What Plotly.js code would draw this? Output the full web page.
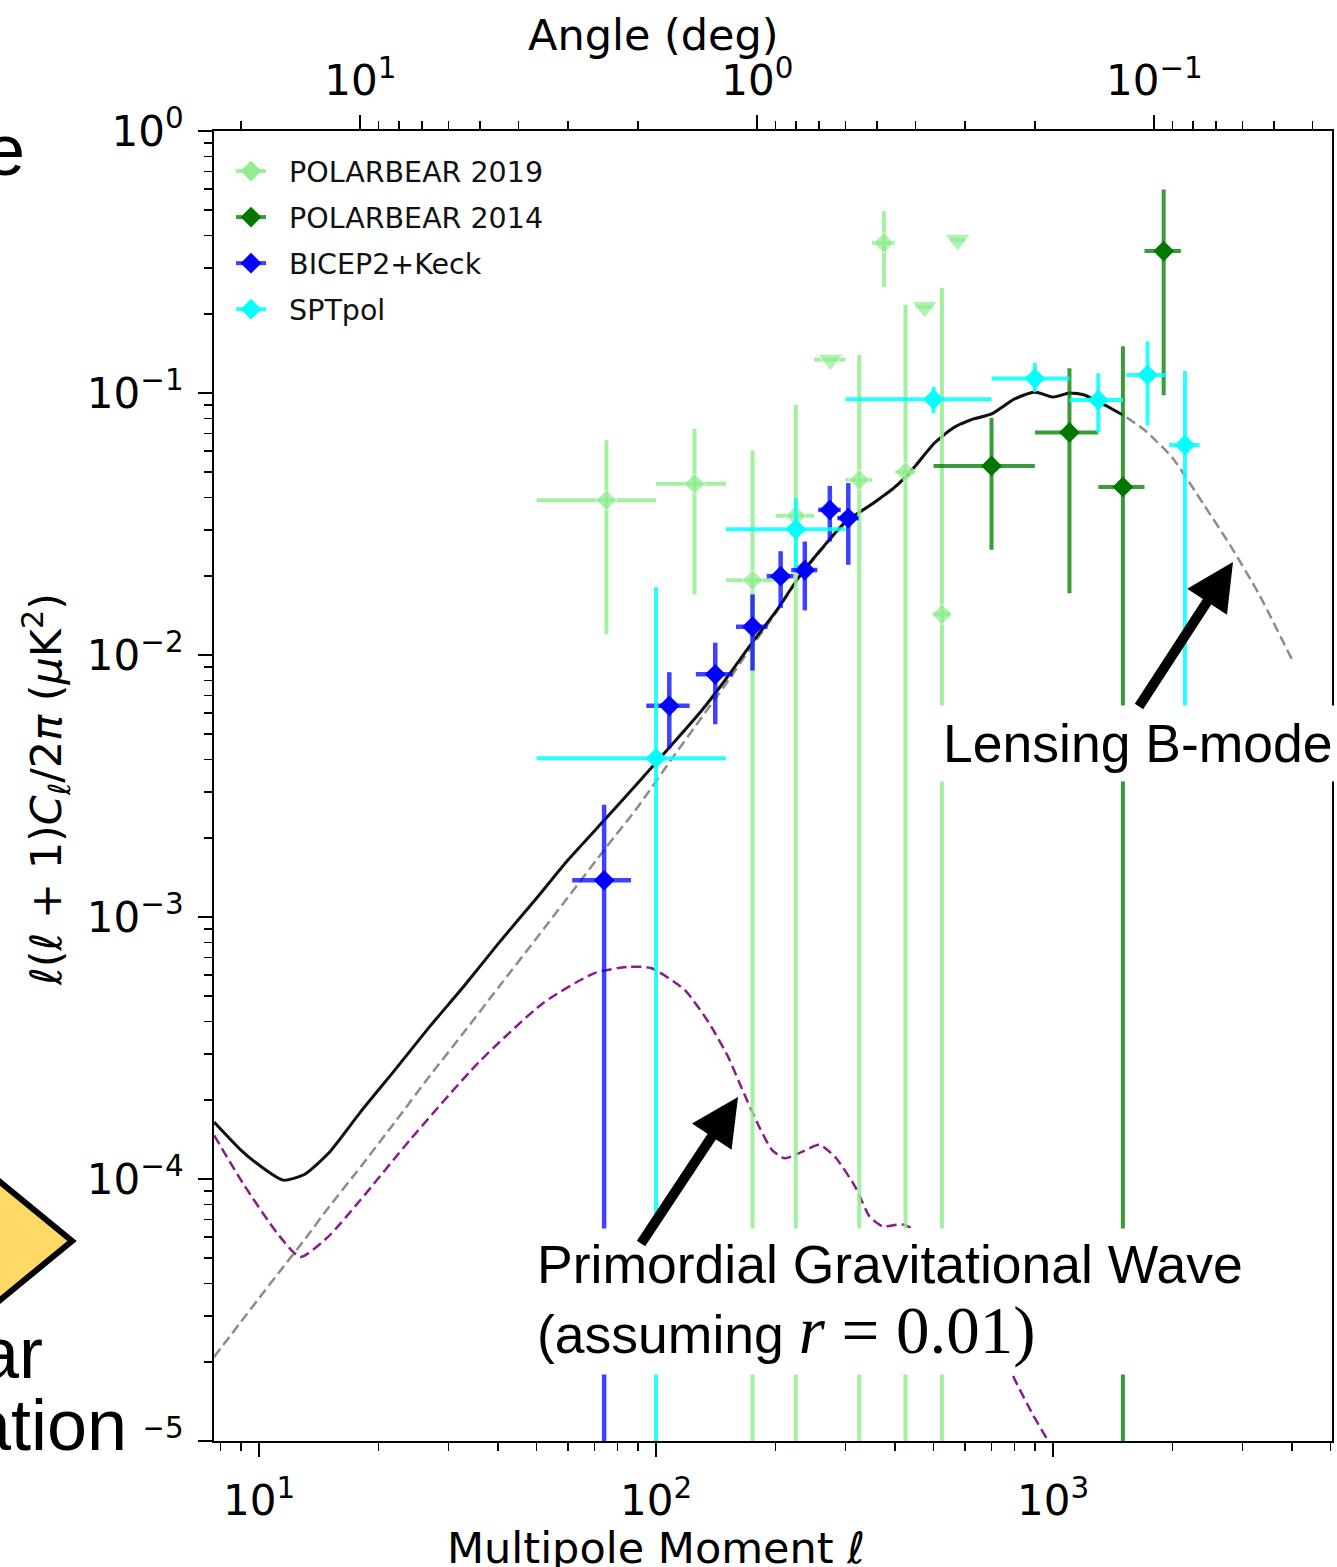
<!DOCTYPE html>
<html>
<head>
<meta charset="utf-8">
<script src="https://cdn.plot.ly/plotly-3.0.1.min.js"></script>
<style>
html,body{margin:0;padding:0;background:#fff;}
#chart{width:1337px;height:1567px;}
</style>
</head>
<body>
<div id="chart"></div>
<script>
// ---------------- data ----------------
// POLARBEAR 2019
const pb19Ell    = [75, 125, 175, 225, 275, 325, 375, 425, 475, 525, 575];
const pb19Val    = [0.039, 0.045, 0.0193, 0.034, 0.134, 0.0466, 0.374, 0.050, 0.213, 0.0143, 0.384];
const pb19Err    = [0.027, 0.028, 0.041, 0.056, 0, 0.093, 0.12, 0.167, 0, 0.238, 0];
const pb19EllErr = [25, 25, 25, 25, 25, 25, 25, 25, 25, 25, 25];
const pb19Upper  = [0, 0, 0, 0, 1, 0, 0, 0, 1, 0, 1];   // 1 = upper limit (triangle)

// POLARBEAR 2014
const pb14Ell    = [700, 1100, 1500, 1900];
const pb14Val    = [0.0527, 0.0707, 0.0438, 0.348];
const pb14Err    = [0.0275, 0.0535, 0.107, 0.25];
const pb14EllErr = [200, 200, 200, 200];

// BICEP2+Keck
const bkEll      = [74, 108, 141, 175, 206, 237, 274, 305];
const bkVal      = [0.00138, 0.0064, 0.00844, 0.01282, 0.0200, 0.0211, 0.0358, 0.0333];
const bkErrPlus  = [0.0013, 0.0022, 0.0027, 0.0042, 0.0049, 0.0060, 0.0084, 0.0120];
const bkErrMinus = [0.0015, 0.0020, 0.0030, 0.0041, 0.0049, 0.0063, 0.0087, 0.0112];
const bkEllErr   = [12.5, 13.5, 15, 16, 16, 18, 18, 19];

// SPTpol
const sptEll      = [100, 225, 500, 900, 1300, 1730, 2150];
const sptVal      = [0.00404, 0.0302, 0.0946, 0.1135, 0.094, 0.1172, 0.0633];
const sptErrPlus  = [0.0141, 0.0095, 0.011, 0.0167, 0.025, 0.040, 0.058];
const sptErrMinus = [0.0141, 0.0087, 0.011, 0.0126, 0.0233, 0.042, 0.058];
const sptEllErr   = [50, 75, 200, 200, 200, 200, 190];

// Total (lensing + r=0.01), black solid
const totEll = [7.7, 9, 10, 11.5, 13, 15, 18, 22, 27, 33, 40, 50, 60, 75, 90, 110, 130, 150, 175, 200,
                230, 260, 300, 350, 400, 450, 500, 560, 630, 700, 800, 900, 1000, 1100, 1200, 1350, 1500];
const totVal = [1.65e-4, 1.29e-4, 1.13e-4, 9.9e-5, 1.04e-4, 1.26e-4, 1.80e-4, 2.61e-4, 3.84e-4, 5.5e-4,
                7.9e-4, 1.18e-3, 1.65e-3, 2.39e-3, 3.25e-3, 4.57e-3, 6.11e-3, 8.1e-3, 1.12e-2, 1.46e-2,
                2.0e-2, 2.52e-2, 3.22e-2, 3.77e-2, 4.38e-2, 5.27e-2, 6.39e-2, 7.35e-2, 7.96e-2, 8.32e-2,
                9.49e-2, 0.1009, 0.0965, 0.1, 0.0983, 0.09, 0.0824];

// Lensing B-mode, grey dashed
const lensEll = [7.7, 9, 10, 11.5, 13, 15, 18, 22, 27, 33, 40, 50, 60, 75, 90, 110, 130, 150, 175, 200,
                 230, 260, 300, 350, 400, 450, 500, 560, 630, 700, 800, 900, 1000, 1100, 1200, 1350, 1500,
                 1700, 2000, 2400, 2800, 3300, 4000];
const lensVal = [2.09e-5, 2.85e-5, 3.51e-5, 4.61e-5, 5.85e-5, 7.82e-5, 1.11e-4, 1.65e-4, 2.49e-4, 3.67e-4,
                 5.36e-4, 8.3e-4, 1.19e-3, 1.85e-3, 2.63e-3, 4.05e-3, 5.75e-3, 7.75e-3, 1.09e-2, 1.44e-2,
                 1.99e-2, 2.5e-2, 3.2e-2, 3.75e-2, 4.35e-2, 5.25e-2, 6.37e-2, 7.33e-2, 7.94e-2, 8.3e-2,
                 9.47e-2, 0.1007, 0.0963, 0.0998, 0.0981, 0.0899, 0.0823,
                 0.0722, 0.0565, 0.0374, 0.0261, 0.0171, 0.0096];

// Primordial (r = 0.01), purple dashed
const tensEll = [7.7, 9.1, 11.1, 12.7, 14.9, 18, 24, 35.6, 52, 70, 85, 97, 118, 136, 152, 165, 182, 196,
                 211, 233, 258, 283, 318, 345, 372, 418, 497, 592, 705, 802, 890, 971, 1124];
const tensVal = [1.47e-4, 9.65e-5, 6.22e-5, 5.04e-5, 6.0e-5, 8.31e-5, 1.41e-4, 2.77e-4, 4.7e-4, 6.11e-4,
                 6.45e-4, 6.39e-4, 5.27e-4, 3.94e-4, 2.92e-4, 2.19e-4, 1.58e-4, 1.29e-4, 1.2e-4, 1.27e-4,
                 1.35e-4, 1.21e-4, 9.3e-5, 7.2e-5, 6.6e-5, 6.7e-5, 5.85e-5, 4.5e-5, 2.65e-5, 1.71e-5,
                 1.26e-5, 1.0e-5, 6e-6];

// axis tick labels
const xTickVals = [10, 100, 1000];
const xTickText = ['10<sup>1</sup>', '10<sup>2</sup>', '10<sup>3</sup>'];
const yTickVals = [1e-5, 1e-4, 1e-3, 1e-2, 1e-1, 1];
const yTickText = ['10<sup>\u22125</sup>', '10<sup>\u22124</sup>', '10<sup>\u22123</sup>', '10<sup>\u22122</sup>', '10<sup>\u22121</sup>', '10<sup>0</sup>'];
const angTickVals = [10, 1, 0.1];
const angTickText = ['10<sup>1</sup>', '10<sup>0</sup>', '10<sup>\u22121</sup>'];

const seriesNames = ['POLARBEAR 2019', 'POLARBEAR 2014', 'BICEP2+Keck', 'SPTpol'];

// ---------------- layout helpers ----------------
const W = 1337, H = 1567, ML = 214, MR = 5, MT = 131, MB = 126;
const PW = W - ML - MR, PH = H - MT - MB;
const px = v => (v - ML) / PW;            // pixel x -> paper
const py = v => (H - MB - v) / PH;        // pixel y -> paper
const ELL_MIN = 7.7, ELL_MAX = 5044;

function minorTicks(lo, hi) {
  const out = [];
  for (let d = -6; d <= 4; d++) {
    for (let k = 2; k <= 9; k++) {
      const v = k * Math.pow(10, d);
      if (v > lo && v < hi) out.push(v);
    }
  }
  return out;
}

const col = {
  pb19: '#90EE90', pb19bar: 'rgba(144,238,144,0.85)',
  pb14: '#007800', pb14bar: 'rgba(0,128,0,0.78)',
  bk: '#0000FF',   bkbar: 'rgba(0,0,255,0.75)',
  spt: '#00FFFF',  sptbar: 'rgba(0,255,255,0.85)'
};

const traces = [];

traces.push({ x: lensEll, y: lensVal, mode: 'lines', type: 'scatter', showlegend: false, hoverinfo: 'skip',
  line: { color: '#8c8c8c', width: 2.5, dash: '10px,5px', shape: 'spline', smoothing: 0.6 } });
traces.push({ x: tensEll, y: tensVal, mode: 'lines', type: 'scatter', showlegend: false, hoverinfo: 'skip',
  line: { color: '#8B1A8B', width: 2.5, dash: '10px,5px', shape: 'spline', smoothing: 0.6 } });
traces.push({ x: totEll, y: totVal, mode: 'lines', type: 'scatter', showlegend: false, hoverinfo: 'skip',
  line: { color: '#111', width: 3, shape: 'spline', smoothing: 0.6 } });

// POLARBEAR 2019
traces.push({ x: pb19Ell, y: pb19Val, type: 'scatter', mode: 'markers', name: seriesNames[0], showlegend: false,
  marker: { color: col.pb19, size: pb19Upper.map(u => u ? 22 : 16), symbol: pb19Upper.map(u => u ? 'triangle-down' : 'diamond') },
  error_y: { type: 'data', array: pb19Err, symmetric: true, color: col.pb19bar, thickness: 4, width: 0 },
  error_x: { type: 'data', array: pb19EllErr, symmetric: true, color: col.pb19bar, thickness: 4, width: 0 } });
// POLARBEAR 2014
traces.push({ x: pb14Ell, y: pb14Val, type: 'scatter', mode: 'markers', name: seriesNames[1], showlegend: false,
  marker: { color: col.pb14, size: 16, symbol: 'diamond' },
  error_y: { type: 'data', array: pb14Err, symmetric: true, color: col.pb14bar, thickness: 4, width: 0 },
  error_x: { type: 'data', array: pb14EllErr, symmetric: true, color: col.pb14bar, thickness: 4, width: 0 } });
// BICEP2+Keck
traces.push({ x: bkEll, y: bkVal, type: 'scatter', mode: 'markers', name: seriesNames[2], showlegend: false,
  marker: { color: col.bk, size: 16, symbol: 'diamond' },
  error_y: { type: 'data', symmetric: false, array: bkErrPlus, arrayminus: bkErrMinus, color: col.bkbar, thickness: 4.5, width: 0 },
  error_x: { type: 'data', array: bkEllErr, symmetric: true, color: col.bkbar, thickness: 4.5, width: 0 } });
// SPTpol
traces.push({ x: sptEll, y: sptVal, type: 'scatter', mode: 'markers', name: seriesNames[3], showlegend: false,
  marker: { color: col.spt, size: 16, symbol: 'diamond' },
  error_y: { type: 'data', symmetric: false, array: sptErrPlus, arrayminus: sptErrMinus, color: col.sptbar, thickness: 4, width: 0 },
  error_x: { type: 'data', array: sptEllErr, symmetric: true, color: col.sptbar, thickness: 4, width: 0 } });

// legend entries
[[col.pb19, col.pb19bar], [col.pb14, col.pb14bar], [col.bk, col.bkbar], [col.spt, col.sptbar]].forEach((c, i) => {
  traces.push({ x: [null], y: [null], type: 'scatter', mode: 'lines+markers', name: '\u00a0\u00a0' + seriesNames[i],
    legendgroup: 'g' + i, line: { color: c[1], width: 4 }, marker: { color: c[0], size: 16, symbol: 'diamond' } });
});

// anchor trace for the top (angle) axis
traces.push({ x: [1], y: [1e-9], xaxis: 'x2', yaxis: 'y', mode: 'markers', showlegend: false, hoverinfo: 'skip',
  marker: { opacity: 0 } });

const tickFont = { family: 'DejaVu Sans', size: 42, color: '#000' };
const labelFont = { family: 'DejaVu Sans', size: 43, color: '#000' };
const slideFont = { family: 'Liberation Sans', size: 53.5, color: '#000' };
const bigFont = { family: 'Liberation Sans', size: 72, color: '#000' };

const layout = {
  width: W, height: H,
  margin: { l: ML, r: MR, t: MT, b: MB, pad: 0 },
  paper_bgcolor: '#fff', plot_bgcolor: '#fff',
  font: { family: 'DejaVu Sans', color: '#000' },
  showlegend: true,
  legend: { x: px(231), y: py(146), xanchor: 'left', yanchor: 'top', bgcolor: 'rgba(0,0,0,0)',
    font: { family: 'DejaVu Sans', size: 28.5, color: '#111' }, tracegroupgap: 6, itemwidth: 30 },
  xaxis: {
    type: 'log', range: [Math.log10(ELL_MIN), Math.log10(ELL_MAX)],
    tickmode: 'array', tickvals: xTickVals, ticktext: xTickText, tickfont: tickFont,
    ticks: 'outside', ticklen: 14, tickwidth: 2, tickcolor: '#000', ticklabelstandoff: 8,
    minor: { tickmode: 'array', tickvals: minorTicks(ELL_MIN, ELL_MAX), ticks: 'outside', ticklen: 8, tickwidth: 1.5, tickcolor: '#000', showgrid: false },
    showline: true, linecolor: '#000', linewidth: 2, mirror: true,
    showgrid: false, zeroline: false
  },
  xaxis2: {
    type: 'log', overlaying: 'x', side: 'top', anchor: 'y',
    range: [Math.log10(180 / ELL_MIN), Math.log10(180 / ELL_MAX)],
    tickmode: 'array', tickvals: angTickVals, ticktext: angTickText, tickfont: tickFont,
    ticks: 'outside', ticklen: 14, tickwidth: 2, tickcolor: '#000', ticklabelstandoff: 3,
    minor: { tickmode: 'array', tickvals: minorTicks(180 / ELL_MAX, 180 / ELL_MIN), ticks: 'outside', ticklen: 8, tickwidth: 1.5, tickcolor: '#000', showgrid: false },
    showline: true, linecolor: '#000', linewidth: 2,
    showgrid: false, zeroline: false
  },
  yaxis: {
    type: 'log', range: [-5, 0],
    tickmode: 'array', tickvals: yTickVals, ticktext: yTickText, tickfont: tickFont,
    ticks: 'outside', ticklen: 14, tickwidth: 2, tickcolor: '#000', ticklabelstandoff: 6,
    minor: { tickmode: 'array', tickvals: minorTicks(1e-5, 1), ticks: 'outside', ticklen: 8, tickwidth: 1.5, tickcolor: '#000', showgrid: false },
    showline: true, linecolor: '#000', linewidth: 2, mirror: true,
    showgrid: false, zeroline: false
  },
  shapes: [
    { type: 'path', xref: 'paper', yref: 'paper', layer: 'above',
      path: `M ${px(-12)} ${py(1172)} L ${px(72)} ${py(1241)} L ${px(-12)} ${py(1310)} Z`,
      fillcolor: '#FFD966', line: { color: '#000', width: 6 } }
  ],
  annotations: [
    { text: 'Angle (deg)', xref: 'paper', yref: 'paper', x: px(653), y: py(35), showarrow: false,
      xanchor: 'center', yanchor: 'middle', font: labelFont },
    { text: 'Multipole Moment <i>ℓ</i>', xref: 'paper', yref: 'paper', x: px(656), y: py(1548), showarrow: false,
      xanchor: 'center', yanchor: 'middle', font: labelFont },
    { text: '<i>ℓ</i>(<i>ℓ</i> + 1)<i>C</i><sub><i>ℓ</i></sub>/2<i>π</i> (<i>μ</i>K<sup>2</sup>)', xref: 'paper', yref: 'paper',
      x: px(46), y: py(789), textangle: -90, showarrow: false, xanchor: 'center', yanchor: 'middle', font: labelFont },
    { text: 'Lensing B-mode', xref: 'paper', yref: 'paper', x: px(934), y: py(705), showarrow: false,
      xanchor: 'left', yanchor: 'top', bgcolor: '#fff', borderpad: 8, font: slideFont },
    { text: 'Primordial Gravitational Wave<br>(assuming <span style="font-family:Liberation Serif;font-size:67px"><i>r</i> = 0.01)</span>',
      xref: 'paper', yref: 'paper', x: px(530), y: py(1228), showarrow: false, align: 'left',
      xanchor: 'left', yanchor: 'top', bgcolor: '#fff', borderpad: 6, font: slideFont },
    { text: '', xref: 'x', yref: 'y', x: 1 + (738 - 259) / 397, y: -(1097 - 131) / 262,
      showarrow: true, ax: -98, ay: 148, arrowhead: 2, arrowsize: 0.95, arrowwidth: 10, arrowcolor: '#000', standoff: 0 },
    { text: '', xref: 'x', yref: 'y', x: 1 + (1233 - 259) / 397, y: -(562 - 131) / 262,
      showarrow: true, ax: -95, ay: 146, arrowhead: 2, arrowsize: 0.95, arrowwidth: 10, arrowcolor: '#000', standoff: 0 },
    { text: 'e', xref: 'paper', yref: 'paper', x: px(27), y: py(150), showarrow: false,
      xanchor: 'right', yanchor: 'middle', font: bigFont },
    { text: 'ation', xref: 'paper', yref: 'paper', x: px(146), y: py(1425), showarrow: false,
      xanchor: 'right', yanchor: 'middle', bgcolor: '#fff', borderpad: 18, font: bigFont },
    { text: 'ar', xref: 'paper', yref: 'paper', x: px(45), y: py(1353), showarrow: false,
      xanchor: 'right', yanchor: 'middle', font: bigFont }
  ]
};

Plotly.newPlot('chart', traces, layout, { displayModeBar: false, staticPlot: true });
</script>
</body>
</html>
